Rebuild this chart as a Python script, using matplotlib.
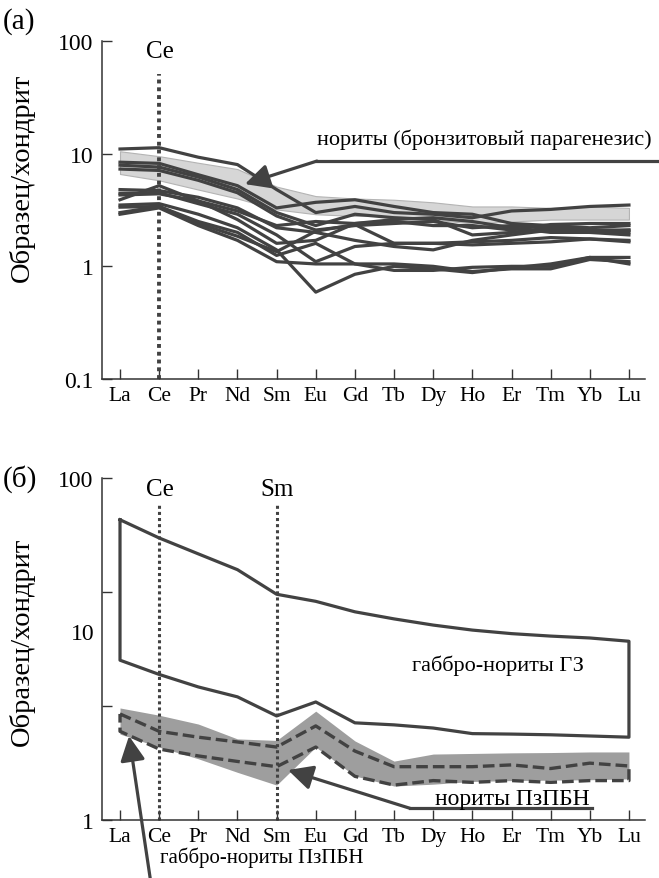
import numpy as np
import matplotlib.pyplot as plt

plt.rcParams['font.family'] = ['Liberation Serif', 'DejaVu Serif']

ree = ['La', 'Ce', 'Pr', 'Nd', 'Sm', 'Eu', 'Gd', 'Tb', 'Dy', 'Ho', 'Er', 'Tm', 'Yb', 'Lu']

# (a) norites, bronzite paragenesis - individual samples
norites_a = [
    [11.0, 11.3, 9.3, 8.0, 4.8, 3.0, 3.4, 3.0, 2.9, 2.7, 3.1, 3.2, 3.4, 3.5],
    [8.4, 8.2, 6.5, 5.2, 3.3, 3.7, 3.9, 3.4, 3.0, 2.9, 2.4, 2.3, 2.2, 2.3],
    [7.9, 7.6, 6.2, 4.8, 3.0, 2.3, 2.9, 2.7, 2.6, 1.9, 2.0, 2.2, 2.1, 2.1],
    [7.3, 7.1, 5.8, 4.5, 2.8, 2.1, 2.3, 2.4, 2.5, 2.2, 2.3, 2.2, 2.0, 2.0],
    [4.8, 4.7, 4.1, 3.3, 2.2, 2.0, 1.7, 1.5, 1.4, 1.7, 1.9, 2.1, 2.0, 1.9],
    [4.45, 4.5, 3.6, 2.9, 1.9, 1.1, 1.5, 1.6, 1.6, 1.65, 1.7, 1.8, 1.75, 1.7],
    [3.9, 5.2, 3.8, 2.6, 1.6, 1.7, 2.4, 2.6, 2.7, 2.5, 2.2, 2.0, 2.0, 2.1],
    [3.5, 3.6, 2.9, 2.2, 1.4, 0.59, 0.85, 1.0, 0.95, 0.88, 0.97, 1.05, 1.2, 1.05],
    [3.35, 3.4, 2.5, 2.0, 1.25, 1.6, 1.05, 0.92, 0.92, 0.98, 1.0, 1.0, 1.2, 1.2],
    [2.9, 3.3, 2.3, 1.7, 1.1, 1.05, 1.05, 1.05, 1.0, 0.9, 0.95, 0.95, 1.15, 1.1],
    [3.0, 3.4, 2.4, 1.85, 1.35, 2.05, 2.35, 1.6, 1.6, 1.55, 1.6, 1.65, 1.75, 1.65],
    [4.3, 4.4, 3.8, 3.1, 2.3, 2.5, 2.4, 2.5, 2.3, 2.3, 2.1, 2.35, 2.4, 2.4],
]
band_a_top = [10.5, 9.5, 8.3, 7.3, 5.1, 4.2, 4.0, 3.9, 3.7, 3.4, 3.4, 3.3, 3.4, 3.3]
band_a_bot = [6.6, 5.8, 4.8, 4.0, 3.2, 2.9, 2.8, 2.8, 2.6, 2.4, 2.5, 2.6, 2.6, 2.6]

# (б) envelopes
gz_top = [57, 44.6, 36, 29.1, 20.9, 19, 16.5, 15, 13.8, 12.9, 12.3, 11.9, 11.6, 11.1]
gz_bot = [8.6, 7.1, 6.0, 5.25, 4.06, 4.9, 3.7, 3.6, 3.45, 3.2, 3.18, 3.15, 3.1, 3.05]
band_b_top = [4.52, 4.1, 3.64, 2.98, 2.92, 4.33, 2.9, 2.21, 2.43, 2.45, 2.47, 2.48, 2.5, 2.5]
band_b_bot = [3.18, 2.67, 2.28, 1.9, 1.6, 2.67, 1.81, 1.58, 1.62, 1.68, 1.7, 1.71, 1.72, 1.74]
dash_b_top = [4.17, 3.3, 3.05, 2.86, 2.67, 3.55, 2.53, 2.05, 2.05, 2.05, 2.1, 2.0, 2.15, 2.07]
dash_b_bot = [3.3, 2.6, 2.37, 2.2, 2.05, 2.67, 1.8, 1.6, 1.7, 1.66, 1.7, 1.66, 1.7, 1.7]

x = np.arange(len(ree))
dark = '#424242'
W, H = 659, 879

fig = plt.figure(figsize=(W / 100, H / 100), dpi=100)
ax1 = fig.add_axes([102 / W, 1 - 380 / H, 543 / W, 338 / H])
ax2 = fig.add_axes([102 / W, 1 - 821 / H, 543 / W, 342 / H])

for ax in (ax1, ax2):
    ax.set_yscale('log')
    ax.set_xlim(-0.46, 13.41)
    ax.set_xticks(x)
    ax.set_xticklabels(ree)
    ax.minorticks_off()
    ax.spines['top'].set_visible(False)
    ax.spines['right'].set_visible(False)
    for s in ('left', 'bottom'):
        ax.spines[s].set_color('#333333')
        ax.spines[s].set_linewidth(1.1)
    ax.tick_params(direction='in', length=7, width=1, labelsize=17,
                   pad=6, color='#333333')
    ax.tick_params(axis='x', labelsize=15.5, pad=5)

# ---- panel (a)
ax1.set_ylim(0.1, 100)
ax1.set_yticks([0.1, 1, 10, 100])
ax1.set_yticklabels(['0.1', '1', '10', '100'])
ax1.fill_between(x, band_a_bot, band_a_top, color='#d6d6d6',
                 edgecolor='#b4b4b4', lw=0.8, zorder=1)
for s in norites_a:
    ax1.plot(x, s, color=dark, lw=2.3, zorder=3)
ax1.plot([1, 1], [0.1, 51], color=dark, lw=2.8, ls=(0, (1, 1)), zorder=2,
         clip_on=False)
ax1.plot([5.03, 13.77], [8.6, 8.6], color=dark, lw=2.3, clip_on=False)
ax1.annotate('', xy=(3.19, 5.37), xytext=(5.03, 8.6),
             arrowprops=dict(arrowstyle='-|>,head_length=0.6,head_width=0.3',
                             mutation_scale=25, color=dark, lw=2.3,
                             shrinkA=0, shrinkB=0), zorder=5)

# ---- panel (б)
ax2.set_ylim(1, 100)
ax2.set_yticks([1, 10 ** (2 / 3), 10 ** (4 / 3), 100])
ax2.set_yticklabels(['1', '', '', '100'])
ax2.fill_between(x, band_b_bot, band_b_top, color='#9e9e9e', lw=0, zorder=1)
px = np.concatenate([x, x[::-1], x[:1]])
ax2.plot(px, gz_top + gz_bot[::-1] + gz_top[:1], color=dark, lw=2.3,
         zorder=3)
ax2.plot(px, dash_b_top + dash_b_bot[::-1] + dash_b_top[:1], color=dark,
         lw=2.4, ls=(0, (3.5, 1.5)), zorder=3)
ax2.plot([1, 1], [1, 70.5], color=dark, lw=2.2, ls=(0, (1, 1)), zorder=2,
         clip_on=False)
ax2.plot([4, 4], [1, 70.5], color=dark, lw=2.2, ls=(0, (1, 1)), zorder=2,
         clip_on=False)
ax2.plot([7.41, 12.05], [1.17, 1.17], color=dark, lw=2.3, clip_on=False)
ax2.annotate('', xy=(4.29, 1.96), xytext=(7.41, 1.17),
             arrowprops=dict(arrowstyle='-|>,head_length=0.6,head_width=0.3',
                             mutation_scale=25, color=dark, lw=2.3,
                             shrinkA=0, shrinkB=0), zorder=5)
ax2.annotate('', xy=(0.23, 3.1), xytext=(0.77, 0.458),
             arrowprops=dict(arrowstyle='-|>,head_length=0.6,head_width=0.3',
                             mutation_scale=25, color=dark, lw=2.3,
                             shrinkA=0, shrinkB=0), zorder=5,
             annotation_clip=False)

# ---- texts (pixel positions)
def ftext(px_, py_, s, **kw):
    fig.text(px_ / W, 1 - py_ / H, s, **kw)

ftext(3, 22, '(a)', fontsize=21, ha='left', va='center')
ftext(3, 479, '(б)', fontsize=21, ha='left', va='center')
ftext(22, 178, 'Образец/хондрит', fontsize=20.5, rotation=90,
      ha='center', va='center')
ftext(22, 642, 'Образец/хондрит', fontsize=20.5, rotation=90,
      ha='center', va='center')
ftext(95, 635, '10', fontsize=17, ha='right', va='center')
ftext(160, 52, 'Ce', fontsize=18, ha='center', va='center')
ftext(160, 490, 'Ce', fontsize=18, ha='center', va='center')
ftext(277, 490, 'Sm', fontsize=18, ha='center', va='center')
ftext(652, 140, 'нориты (бронзитовый парагенезис)', fontsize=16,
      ha='right', va='center')
ftext(498, 666, 'габбро-нориты ГЗ', fontsize=16, ha='center', va='center')
ftext(512, 800, 'нориты ПзПБН', fontsize=17, ha='center', va='center')
ftext(160, 858, 'габбро-нориты ПзПБН', fontsize=15, ha='left', va='center')

fig.savefig('out.png', dpi=100)
